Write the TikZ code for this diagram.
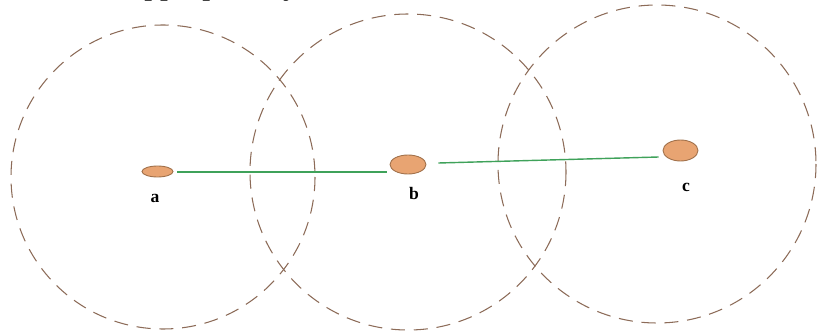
\documentclass[tikz,border=0pt]{standalone}
\usepackage{fontspec}
\setmainfont{Liberation Serif}
\usetikzlibrary{shapes.geometric, calc}
\definecolor{colorZona}{HTML}{8C6B58}
\definecolor{colorEnlace}{HTML}{3FA25A}
\definecolor{colorNodo}{HTML}{E8A472}
\definecolor{bordeNodo}{HTML}{A0704A}

\begin{document}
\begin{tikzpicture}[x=0.02cm, y=-0.02cm,
        zona/.style={draw=colorZona, line width=0.6pt, dash pattern=on 8pt off 5pt},
        s/.style={ellipse, draw=bordeNodo, fill=colorNodo, line width=0.5pt, inner sep=0pt},
        lbl/.style={anchor=base, inner sep=0pt, font=\fontsize{10}{11}\selectfont\bfseries},
        rel/.style={colorEnlace, line width=0.8pt}
    ]
        \useasboundingbox (0,0) rectangle (819,331);
        \clip (0,0) rectangle (819,331);
        \node[anchor=base west, inner sep=0pt, font=\fontsize{18}{20}\selectfont] (txt) at (130,-5) {appropriately};
        % zonas de alcance
        \draw[zona] (163,177) circle (152);
        \draw[zona] (408,172) circle (158);
        \draw[zona] (657,164) circle (159);
        % nodos
        \node[s, minimum width=0.62cm, minimum height=0.22cm] (a) at (157.5,171.5) {};
        \node[s, minimum width=0.72cm, minimum height=0.38cm] (b) at (408,164.5) {};
        \node[s, minimum width=0.70cm, minimum height=0.42cm] (c) at (680.5,150.5) {};
        \node[lbl] (la) at (155,203) {a};
        \node[lbl] (lb) at (414,199) {b};
        \node[lbl] (lc) at (686,192) {c};
        \draw[rel] ($(a.east)+(4,0.5)$) -- ($(b.west |- a.east)+(-3,0.5)$);
        \draw[rel] ($(b.east)+(12,-1.5)$) -- ($(c.west)+(-4,6.5)$);
    \end{tikzpicture}
\end{document}
